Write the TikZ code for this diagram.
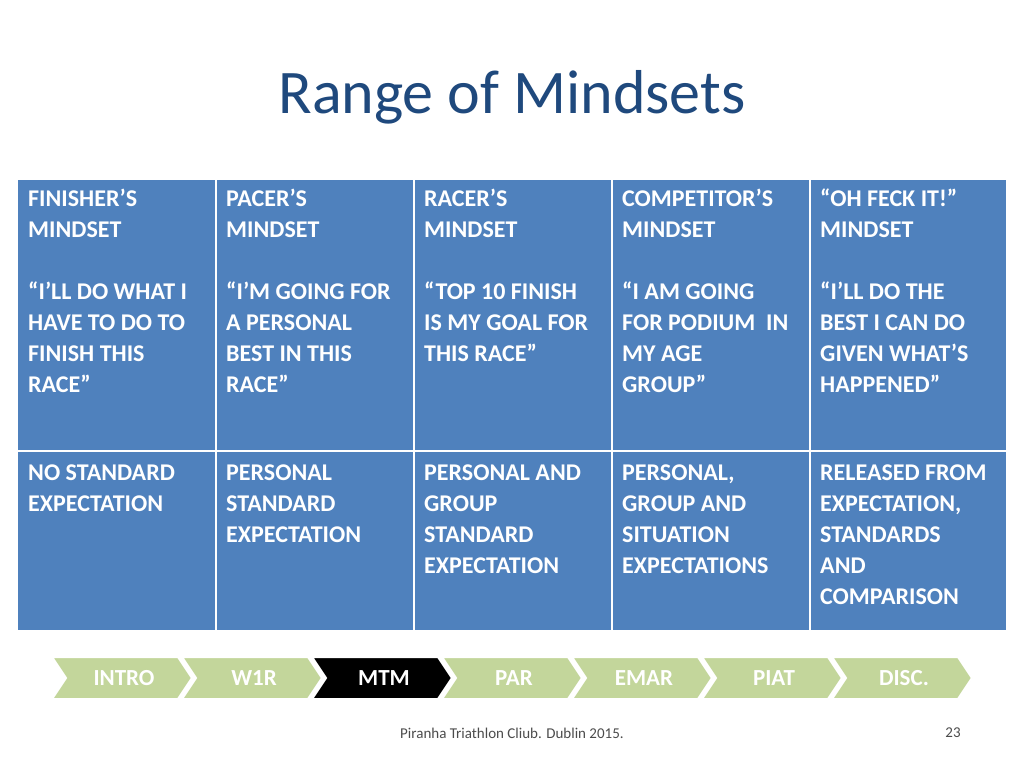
\documentclass[tikz,border=0pt]{standalone}
\usepackage{fontspec}
\setmainfont{Carlito}
\begin{document}
\begin{tikzpicture}[x=1pt,y=-1pt,
 cell/.style={anchor=north west,align=left,inner sep=0pt,text=white,font=\fontsize{24}{31}\selectfont\bfseries},
 chev/.style={fill=chevg,draw=white,line width=2pt},
 chevt/.style={text=white,font=\fontsize{23}{26}\selectfont\bfseries}]
\definecolor{tblue}{HTML}{4F81BD}
\definecolor{ttl}{HTML}{1F497D}
\definecolor{chevg}{HTML}{C3D69B}
\useasboundingbox (0,0) rectangle (1024,768);
\fill[white] (0,0) rectangle (1024,768);
\node[text=ttl,font=\fontsize{62}{66}\selectfont] (title) at (512,97) {Range of Mindsets};
\fill[tblue] (18,180) rectangle (1006,630);
\foreach \x in {216,414,612,810} \draw[white,line width=2pt] (\x,180) -- (\x,630);
\draw[white,line width=2.5pt] (18,451) -- (1006,451);
\node[cell] (a1) at (28,189) {FINISHER’S\\MINDSET\\[31pt]“I’LL DO WHAT I\\HAVE TO DO TO\\FINISH THIS\\RACE”};
\node[cell] (b1) at (226,189) {PACER’S\\MINDSET\\[31pt]“I’M GOING FOR\\A PERSONAL\\BEST IN THIS\\RACE”};
\node[cell] (c1) at (424,189) {RACER’S\\MINDSET\\[31pt]“TOP 10 FINISH\\IS MY GOAL FOR\\THIS RACE”};
\node[cell] (d1) at (622,189) {COMPETITOR’S\\MINDSET\\[31pt]“I AM GOING\\FOR PODIUM~ IN\\MY AGE\\GROUP”};
\node[cell] (e1) at (820,189) {“OH FECK IT!”\\MINDSET\\[31pt]“I’LL DO THE\\BEST I CAN DO\\GIVEN WHAT’S\\HAPPENED”};
\node[cell] (a2) at (28,465) {NO STANDARD\\EXPECTATION};
\node[cell] (b2) at (226,465) {PERSONAL\\STANDARD\\EXPECTATION};
\node[cell] (c2) at (424,465) {PERSONAL AND\\GROUP\\STANDARD\\EXPECTATION};
\node[cell] (d2) at (622,465) {PERSONAL,\\GROUP AND\\SITUATION\\EXPECTATIONS};
\node[cell] (e2) at (820,465) {RELEASED FROM\\EXPECTATION,\\STANDARDS\\AND\\COMPARISON};
\foreach \i/\t in {0/INTRO,1/W1R,2/MTM,3/PAR,4/EMAR,5/PIAT,6/DISC.}{
 \pgfmathsetmacro\xa{52+130*\i}
 \pgfmathsetmacro\xb{\xa+126}
 \ifnum\i=2
  \fill[black,draw=white,line width=2pt] (\xa,657) -- (\xb,657) -- (\xb+14,678) -- (\xb,699) -- (\xa,699) -- (\xa+14,678) -- cycle;
 \else
  \path[chev] (\xa,657) -- (\xb,657) -- (\xb+14,678) -- (\xb,699) -- (\xa,699) -- (\xa+14,678) -- cycle;
 \fi
 \node[chevt] (ch\i) at (\xa+72,678) {\t};
}
\node[text=black!70,font=\fontsize{15}{17}\selectfont] (foot) at (512,733) {Piranha Triathlon Cliub. Dublin 2015.};
\node[text=black!70,font=\fontsize{15}{17}\selectfont] (pg) at (953,733) {23};
\end{tikzpicture}
\end{document}
